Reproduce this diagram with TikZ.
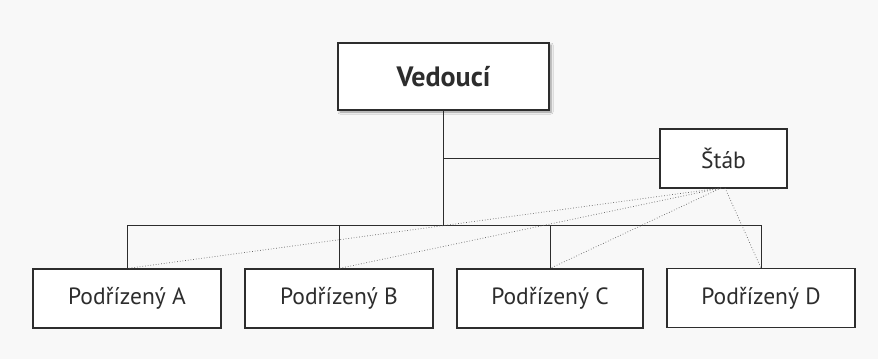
\documentclass[tikz,border=0pt]{standalone}
\usepackage{fontspec}
\setmainfont{PT Sans}
\usetikzlibrary{shadows.blur}
\definecolor{paper}{RGB}{248,248,248}
\definecolor{ink}{RGB}{45,45,45}
\begin{document}
\begin{tikzpicture}[x=1pt,y=-1pt,
  unitbox/.style={draw=ink, line width=1.1pt, fill=white, text=ink,
    inner sep=0pt, font=\fontsize{23.5}{28}\selectfont},
  link/.style={draw=ink, line width=0.9pt},
  advice/.style={draw=ink!75, line width=0.7pt, dotted}]
  % page background
  \fill[paper] (0,0) rectangle (878,359);
  \useasboundingbox (0,0) rectangle (878,359);

  % boxes
  \node[unitbox, minimum width=211pt, minimum height=67pt,
        font=\fontsize{28}{32}\selectfont\bfseries,
        blur shadow={shadow xshift=2pt, shadow yshift=-2pt, shadow blur steps=6, shadow blur radius=2pt}]
        (V) at (443.5,76.5) {Vedoucí};
  \node[unitbox, line width=1.5pt, minimum width=127pt, minimum height=59pt] (S) at (723.5,158.5) {Štáb};
  \node[unitbox, minimum width=188pt, minimum height=59pt] (A) at (127,298.5) {Podřízený A};
  \node[unitbox, minimum width=188pt, minimum height=59pt] (B) at (339,298.5) {Podřízený B};
  \node[unitbox, minimum width=186pt, minimum height=59pt] (C) at (550,298.5) {Podřízený C};
  \node[unitbox, minimum width=188pt, minimum height=59pt] (D) at (761,298) {Podřízený D};

  % line of command
  \coordinate (bus) at (0,225);
  \draw[link] (V.south) -- (V.south |- bus);
  \draw[link] (A.north |- bus) -- (D.north |- bus);
  \foreach \u in {A,B,C,D}
    \draw[link] (\u.north) -- (\u.north |- bus);
  \draw[link] (V.south |- S.west) -- (S.west);

  % advisory links from the staff
  \coordinate (sL) at (721,188);
  \coordinate (sR) at (725,188);
  \foreach \u in {A,B,C}
    \draw[advice] (sL) -- (\u.north);
  \draw[advice] (sR) -- (D.north);
\end{tikzpicture}
\end{document}
